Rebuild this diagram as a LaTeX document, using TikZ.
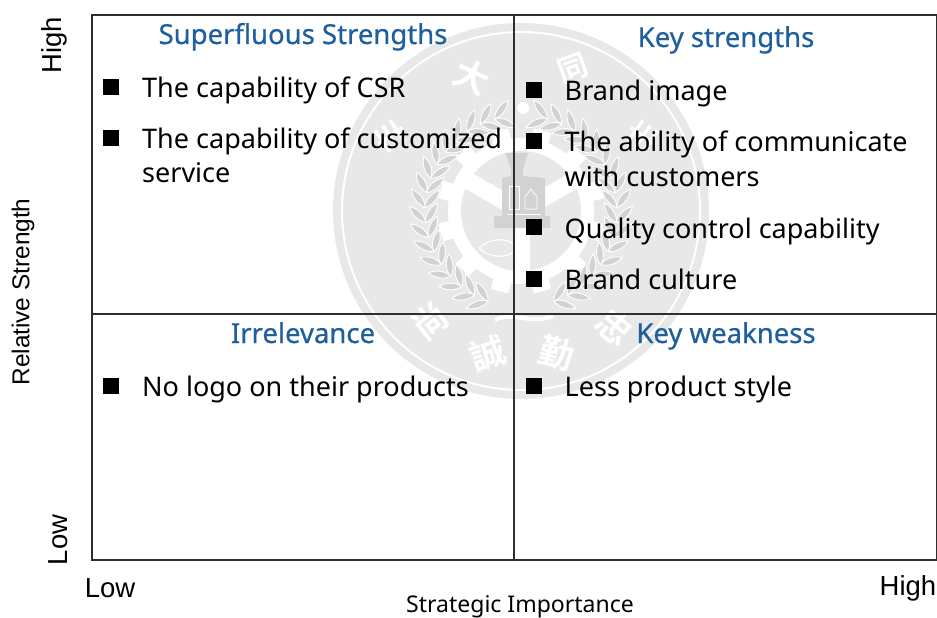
\documentclass[tikz,border=0pt]{standalone}
\usepackage{fontspec}
\setmainfont{Noto Sans}
\newfontfamily\headf[FakeBold=0.6]{Noto Sans}
\newfontfamily\arialf{Liberation Sans}
\newfontfamily\cjkf{Noto Sans CJK TC Bold}
\definecolor{headblue}{HTML}{1F5F9E}
\definecolor{sealgrey}{HTML}{E8E8E8}
\definecolor{sealmid}{HTML}{D2D2D2}
\definecolor{framegrey}{HTML}{2E2E2E}
\tikzset{
 x=1pt,y=-1pt,
 frameline/.style={draw=framegrey,line width=1.5pt},
 head/.style={font=\headf\fontsize{27.5}{30}\selectfont,text=headblue,inner sep=0pt,anchor=base},
 item/.style={font=\fontsize{27}{34}\selectfont,text=black,inner sep=0pt,anchor=base west,align=left},
 bul/.style={fill=black,minimum size=16pt,inner sep=0pt,anchor=center,draw=none},
 axl/.style={font=\arialf\fontsize{27.5}{30}\selectfont,text=black,inner sep=0pt,anchor=center},
 seal/.style={font=\cjkf\fontsize{35}{35}\selectfont,text=white,inner sep=0pt},
 leaf/.style={fill=sealmid,draw=white,line width=0.9pt},
 sealmark/.style={draw=white,line width=3.5pt},
}
\begin{document}
\begin{tikzpicture}
\useasboundingbox (0,0) rectangle (937,618);
\fill[white] (0,0) rectangle (937,618);
% watermark seal
\begin{scope}[shift={(521,211)}]
 \fill[sealgrey] (0,0) circle[radius=188];
 \draw[white,line width=2pt] (0,0) circle[radius=179];
 % wreath
 \foreach \s in {1,-1}{
  \begin{scope}[xscale=\s]
  \foreach \a in {-70,-61,...,78}{
   \draw[leaf,rotate=\a] (96,0) .. controls (104,-3) and (109,-10) .. (110,-18) .. controls (102,-15) and (96,-8) .. (96,0);
   \draw[leaf,rotate=\a] (96,0) .. controls (88,-3) and (83,-10) .. (82,-18) .. controls (90,-15) and (96,-8) .. (96,0);
  }
  \end{scope}
 }
 % gear
 \foreach \a in {0,30,...,330}{\fill[white,rotate=\a+15] (-9,-83) rectangle (9,-68);}
 \fill[white] (0,0) circle[radius=73];
 \fill[sealgrey] (0,0) circle[radius=60];
 \foreach \a in {60,-60,180}{\draw[white,line width=17pt,rotate=\a] (0,0) -- (0,-63);}
 % lower details of the wheel
 \draw[white,line width=1.3pt] (-42,37) .. controls (-30,26) and (-12,26) .. (-2,37) .. controls (-12,48) and (-30,48) .. cycle;
 % weight in the centre
 \fill[sealmid] (-27,17) -- (29,17) -- (29,5) -- (24,5) -- (24,-33) -- (2,-35) -- (2,-42) -- (7,-58) -- (-16,-58) -- (-10,-42) -- (-10,-35) -- (-19,-33) -- (-19,5) -- (-27,5) -- cycle;
 \draw[white,line width=0.7pt] (-12,-25) rectangle (-2,-2);
 \draw[white,line width=0.7pt] (4,-14) -- (10,-22) -- (16,-14) -- (16,-2) -- (4,-2) -- cycle;
 \draw[white,line width=0.7pt] (-14,3) -- (20,3);
 % ribbon and top mark
 \draw[white,line width=4pt] (-26,109) .. controls (-8,100) and (10,114) .. (32,105);
 \fill[white] (2,-103) circle[radius=6];
 % characters
 \node[seal,rotate=-25] (s1) at (-49,-134) {大};
 \node[seal,rotate=20,font=\cjkf\fontsize{30}{30}\selectfont] (s2) at (52,-143) {同};
 \node[seal,rotate=38] (s5) at (-91,110) {尚};
 \node[seal,rotate=18] (s6) at (-33,142) {誠};
 \node[seal,rotate=-15] (s7) at (36,142) {勤};
 \node[seal,rotate=-40] (s8) at (94,116) {忠};
 % unreadable characters at the sides
 \foreach \dx/\r in {-131/-55,122/55}{
  \begin{scope}[shift={(\dx,-75)},rotate=\r]
   \draw[sealmark] (-13,-9) -- (13,-9);
   \draw[sealmark] (-13,0) -- (13,0);
   \draw[sealmark] (-13,9) -- (13,9);
   \draw[sealmark] (0,-15) -- (0,14);
  \end{scope}
 }
\end{scope}
% frame
\draw[frameline] (92,15) rectangle (937,560);
\coordinate (vt) at (514,15); \coordinate (vb) at (514,560);
\coordinate (hl) at (92,314); \coordinate (hr) at (937,314);
\draw[frameline] (vt) -- (vb);
\draw[frameline] (hl) -- (hr);
% headings
\node[head] (h1) at (303,44) {Superfluous Strengths};
\node[head] (h2) at (726,47) {Key strengths};
\node[head] (h3) at (303,343) {Irrelevance};
\node[head] (h4) at (726,343) {Key weakness};
% bullets and items
\node[bul] (b1) at (111,87) {}; \node[item] (t1) at (142,97) {The capability of CSR};
\node[bul] (b2) at (111,138) {}; \node[item] (t2) at (142,148) {The capability of customized};
\node[item] (t2b) at (142,182) {service};
\node[bul] (b3) at (534,90) {}; \node[item] (t3) at (564.5,100) {Brand image};
\node[bul] (b4) at (534,141) {}; \node[item] (t4) at (564.5,151) {The ability of communicate};
\node[item] (t4b) at (564.5,186) {with customers};
\node[bul] (b5) at (534,227) {}; \node[item] (t5) at (564.5,238) {Quality control capability};
\node[bul] (b6) at (534,279) {}; \node[item] (t6) at (564.5,289) {Brand culture};
\node[bul] (b7) at (111,386) {}; \node[item] (t7) at (142,396) {No logo on their products};
\node[bul] (b8) at (534,386) {}; \node[item] (t8) at (564.5,396) {Less product style};
% axes
\node[axl,rotate=90] (y1) at (54,45) {High};
\node[axl,rotate=90] (y2) at (58,540) {Low};
\node[axl] (x1) at (110,588) {Low};
\node[axl] (x2) at (908,588) {High};
\node[font=\arialf\fontsize{24.4}{26}\selectfont,rotate=90,inner sep=0pt] (yl) at (23,292) {Relative Strength};
\node[font=\fontsize{23}{26}\selectfont,inner sep=0pt] (xl) at (520,607) {Strategic Importance};
\end{tikzpicture}
\end{document}
